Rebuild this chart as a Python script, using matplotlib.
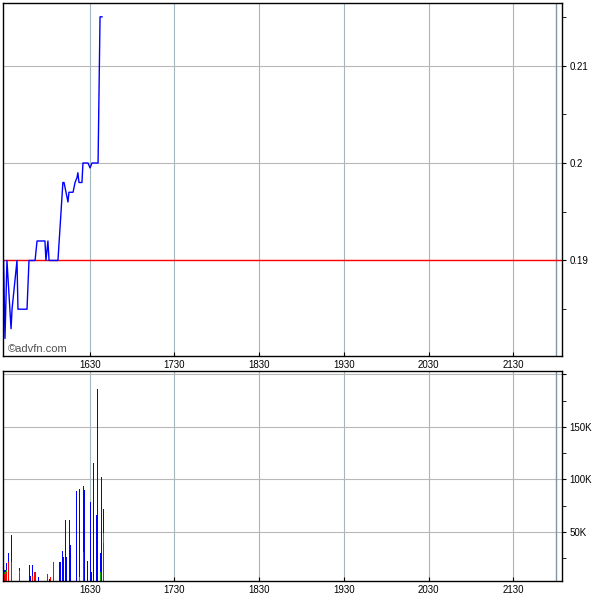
import matplotlib
matplotlib.use("Agg")
import matplotlib.pyplot as plt

# temps en minutes depuis minuit (1630 -> 990)
t_prix = [929, 930, 931.4, 934.3, 935, 938.5, 939.2, 945.6, 947, 951.3, 952.7,
          958.3, 959, 960.4, 961.2, 967.5, 971, 971.8, 973.2, 974.6, 975.3,
          978.2, 979.6, 981, 981.6, 982.4, 984.5, 985.2, 988.8, 990.2, 991.6,
          995.9, 997.3, 998.7]
prix = [0.19, 0.182, 0.19, 0.183, 0.185, 0.19, 0.185, 0.185, 0.19, 0.19, 0.192,
        0.192, 0.19, 0.192, 0.19, 0.19, 0.198, 0.198, 0.197, 0.196, 0.197,
        0.197, 0.198, 0.1985, 0.199, 0.198, 0.198, 0.2, 0.2, 0.1995, 0.2,
        0.2, 0.215, 0.215]
cloture_veille = 0.19

# volumes (rouge / vert / bleu empilés)
t_vol = [929.1, 930, 930.9, 932.3, 934.5, 940.1, 947.2, 947.9, 949.3, 951.3,
         953.6, 958.6, 960, 961.4, 962.1, 964.2, 969.0, 970.6, 971.3, 972.7,
         973.4, 975.6, 976.3, 980.5, 982.6, 985.5, 986.2, 988.3, 990.4, 991.1,
         992.5, 995.0, 995.4, 997.5, 998.2, 999.6]
vol_rouge = [25000, 10000, 12000, 21700, 21700, 11000, 0, 0, 8100, 12000,
             0, 0, 10000, 0, 7100, 21700, 0, 0, 0, 0,
             0, 0, 0, 0, 0, 31200, 0, 0, 0, 0,
             0, 0, 0, 0, 0, 39200]
vol_vert = [0, 2000, 2000, 0, 0, 2000, 0, 0, 0, 0,
            0, 0, 0, 0, 0, 0, 0, 0, 0, 0,
            0, 0, 0, 0, 7500, 0, 0, 0, 0, 0,
            0, 0, 0, 11900, 0, 9600]
vol_bleu = [4700, 2000, 6500, 8000, 25400, 2700, 18600, 8100, 10500, 0,
            6900, 3500, 0, 5200, 0, 0, 21400, 31900, 26000, 61400,
            25900, 61400, 37900, 89000, 83700, 62600, 90000, 22400, 78600, 11900,
            115700, 66500, 186200, 17800, 102700, 23400]

heures = [990, 1050, 1110, 1170, 1230, 1290]
heures_txt = ["1630", "1730", "1830", "1930", "2030", "2130"]
fin_seance = 1320

plt.rcParams['font.family'] = ['Liberation Sans', 'DejaVu Sans']

fig = plt.figure(figsize=(6, 6), dpi=100)
ax1 = fig.add_axes([0.005, 0.4067, 0.932, 0.588])
ax2 = fig.add_axes([0.005, 0.0317, 0.932, 0.35])

gris_h = '#b8b8b8'
gris_v = '#a6b6c0'

for ax in (ax1, ax2):
    ax.set_xlim(928.6, 1324.5)
    ax.set_xticks(heures)
    ax.set_xticklabels(heures_txt, fontsize=7)
    ax.tick_params(axis='x', direction='in', length=3, pad=3)
    ax.xaxis.grid(True, color=gris_v, lw=0.8)
    ax.yaxis.grid(True, color=gris_h, lw=0.8)
    ax.set_axisbelow(True)
    ax.axvline(fin_seance, color='#7f95a5', lw=1)
    ax.yaxis.tick_right()
    ax.tick_params(axis='y', which='both', direction='out', length=3,
                   labelsize=7, pad=2)
    for s in ax.spines.values():
        s.set_linewidth(1)

# cours
ax1.axhline(cloture_veille, color='red', lw=1)
ax1.plot(t_prix, prix, color='#0000ff', lw=1)
ax1.set_ylim(0.1802, 0.2164)
ax1.set_yticks([0.19, 0.20, 0.21])
ax1.set_yticklabels(["0.19", "0.2", "0.21"])
ax1.set_yticks([0.185, 0.195, 0.205, 0.215], minor=True)
ax1.text(0.008, 0.012, "©advfn.com", transform=ax1.transAxes, fontsize=8,
         color='#505050')

# volume
bas_vert = [r for r in vol_rouge]
bas_bleu = [r + v for r, v in zip(vol_rouge, vol_vert)]
ax2.bar(t_vol, vol_rouge, width=1.0, color='red', linewidth=0, antialiased=False)
ax2.bar(t_vol, vol_vert, width=1.0, bottom=bas_vert, color='#00b000',
        linewidth=0, antialiased=False)
ax2.bar(t_vol, vol_bleu, width=1.0, bottom=bas_bleu, color='#0000ff',
        linewidth=0, antialiased=False)
ax2.set_ylim(3300, 203300)
ax2.set_yticks([50000, 100000, 150000, 200000])
ax2.set_yticklabels(["50K", "100K", "150K", ""])
ax2.set_yticks([25000, 75000, 125000, 175000], minor=True)

fig.savefig("out.png", dpi=100)
